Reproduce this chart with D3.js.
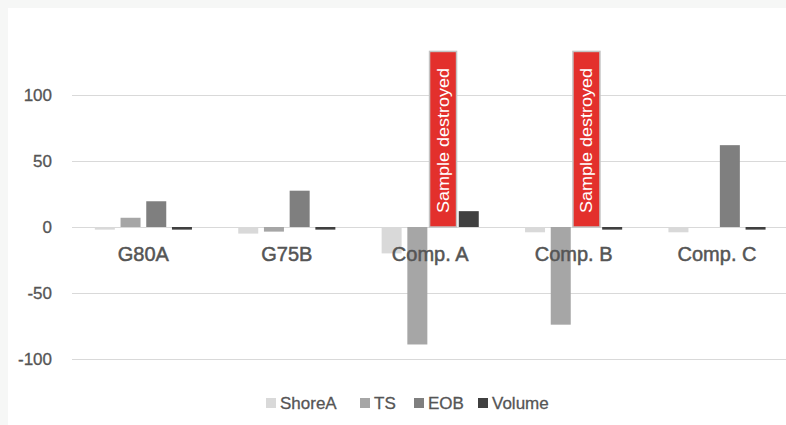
<!DOCTYPE html>
<html>
<head>
<meta charset="utf-8">
<script src="https://cdn.jsdelivr.net/npm/d3@7"></script>
<style>
  html, body { margin: 0; padding: 0; background: #f6f7f6; }
  svg { display: block; }
</style>
</head>
<body>
<svg id="chart" width="786" height="425"></svg>
<script>
const categories = ["G80A", "G75B", "Comp. A", "Comp. B", "Comp. C"];
const seriesNames = ["ShoreA", "TS", "EOB", "Volume"];
const shoreA = [-2, -5, -20, -4, -4];
const ts = [7, -3.5, -89, -74, 0];
const eob = [19.5, 27.5, null, null, 62];
const volume = [-2, -2, 12, -2, -2];
const yTicks = [-100, -50, 0, 50, 100];
const annotations = [
  { category: "Comp. A", series: "EOB", top: 133, text: "Sample destroyed" },
  { category: "Comp. B", series: "EOB", top: 133, text: "Sample destroyed" }
];
const colors = ["#d9d9d9", "#a6a6a6", "#7f7f7f", "#404040"];
const seriesValues = [shoreA, ts, eob, volume];

const svg = d3.select("#chart");
const font = "'Liberation Sans', Arial, sans-serif";
const textColor = "#555555";

svg.append("rect").attr("x", 8).attr("y", 8).attr("width", 778).attr("height", 417).attr("fill", "#ffffff");

const x = d3.scaleBand().domain(categories).range([71.7, 788.7]).paddingInner(0).paddingOuter(0);
const xs = d3.scaleBand().domain(seriesNames).range([0, x.bandwidth()]).paddingInner(0.222).paddingOuter(0.9);
const y = d3.scaleLinear().domain([-100, 100]).range([359, 95]);

// gridlines
svg.append("g").selectAll("line").data(yTicks).join("line")
  .attr("x1", 72).attr("x2", 786)
  .attr("y1", d => Math.round(y(d)) + 0.5).attr("y2", d => Math.round(y(d)) + 0.5)
  .attr("stroke", "#d9d9d9").attr("stroke-width", 1);

// y tick labels
svg.append("g").selectAll("text").data(yTicks).join("text")
  .attr("x", 52).attr("y", d => y(d))
  .attr("dy", "0.35em")
  .attr("text-anchor", "end")
  .attr("font-family", font).attr("font-size", 17)
  .attr("fill", textColor).attr("stroke", textColor).attr("stroke-width", 0.3)
  .text(d => d);

// bars
const barData = [];
categories.forEach((c, i) => {
  seriesNames.forEach((s, j) => {
    const v = seriesValues[j][i];
    if (v !== null && v !== 0) barData.push({ c, s, v, color: colors[j] });
  });
});
svg.append("g").selectAll("rect").data(barData).join("rect")
  .attr("x", d => x(d.c) + xs(d.s))
  .attr("width", xs.bandwidth())
  .attr("y", d => Math.min(y(d.v), y(0)))
  .attr("height", d => Math.abs(y(d.v) - y(0)))
  .attr("fill", d => d.color);

// annotations
const ann = svg.append("g").selectAll("g").data(annotations).join("g");
ann.append("rect")
  .attr("x", d => x(d.category) + xs(d.series) + xs.bandwidth() / 2 - 13.5)
  .attr("width", 27)
  .attr("y", d => y(d.top))
  .attr("height", d => y(0) - y(d.top))
  .attr("fill", "#e3302c")
  .attr("stroke", "#c3c3c3").attr("stroke-width", 1.5);
ann.append("text")
  .attr("transform", d => `translate(${x(d.category) + xs(d.series) + xs.bandwidth() / 2 + 5.5},${y(0) - 14}) rotate(-90)`)
  .attr("font-family", font).attr("font-size", 16)
  .attr("fill", "#ffffff")
  .attr("textLength", 145).attr("lengthAdjust", "spacingAndGlyphs")
  .text(d => d.text);

// category labels
svg.append("g").selectAll("text").data(categories).join("text")
  .attr("x", d => x(d) + x.bandwidth() / 2)
  .attr("y", 261)
  .attr("text-anchor", "middle")
  .attr("font-family", font).attr("font-size", 20)
  .attr("fill", textColor).attr("stroke", textColor).attr("stroke-width", 0.5)
  .text(d => d);

// legend
const legendX = [266, 360, 414, 478];
const lg = svg.append("g").selectAll("g").data(seriesNames).join("g")
  .attr("transform", (d, i) => `translate(${legendX[i]},403)`);
lg.append("rect").attr("x", 0).attr("y", -5).attr("width", 10).attr("height", 10)
  .attr("fill", (d, i) => colors[i]);
lg.append("text").attr("x", 14).attr("y", 0).attr("dy", "0.35em")
  .attr("font-family", font).attr("font-size", 17)
  .attr("fill", textColor).attr("stroke", textColor).attr("stroke-width", 0.3)
  .text(d => d);
</script>
</body>
</html>
